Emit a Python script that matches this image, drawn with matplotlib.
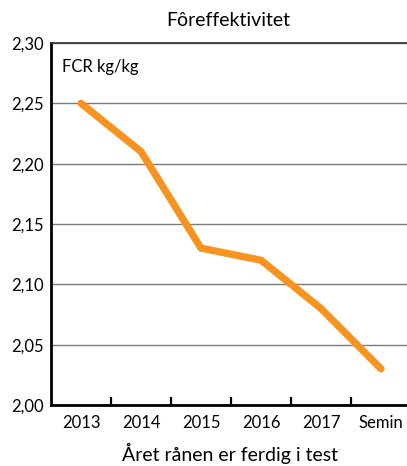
import matplotlib.pyplot as plt
import numpy as np

plt.rcParams['font.family'] = ['Lato', 'DejaVu Sans']

# Data
categories = ['2013', '2014', '2015', '2016', '2017', 'Semin']
fcr = [2.25, 2.21, 2.13, 2.12, 2.08, 2.03]
yticks = [2.00, 2.05, 2.10, 2.15, 2.20, 2.25, 2.30]

fig = plt.figure(figsize=(4.07, 4.66), dpi=100)
ax = fig.add_axes([51 / 407, 61 / 466, 360 / 407, 362 / 466])

x = np.arange(len(categories))
ax.plot(x, fcr, color='#F7931E', lw=5.2, solid_capstyle='round', zorder=3)

ax.set_xlim(-0.5, len(categories) - 0.5)
ax.set_ylim(2.00, 2.30)
ax.set_yticks(yticks)
ax.set_yticklabels([f'{v:.2f}'.replace('.', ',') for v in yticks], fontsize=12)
ax.yaxis.grid(True, color='#7a7a7a', lw=1.0)
ax.set_axisbelow(True)
ax.tick_params(axis='y', length=0, pad=5)

# categories centered between tick marks
ax.set_xticks(x)
ax.set_xticklabels(categories, fontsize=12)
ax.set_xticks(x[:-1] + 0.5, minor=True)
ax.tick_params(axis='x', which='major', length=0, pad=7)
ax.tick_params(axis='x', which='minor', direction='in', length=6, width=1.6, color='black')

ax.spines['right'].set_visible(False)
ax.spines['top'].set_color('#333333')
ax.spines['top'].set_linewidth(1.2)
ax.spines['left'].set_linewidth(2)
ax.spines['bottom'].set_linewidth(2)

ax.text(0.03, 0.955, 'FCR kg/kg', transform=ax.transAxes, fontsize=12, va='top', ha='left')

fig.text(0.56, 1 - 20 / 466, 'Fôreffektivitet', fontsize=14, ha='center', va='center')
fig.text(0.565, 1 - 453 / 466, 'Året rånen er ferdig i test', fontsize=14, ha='center', va='center')

fig.savefig('out.png', dpi=100)
